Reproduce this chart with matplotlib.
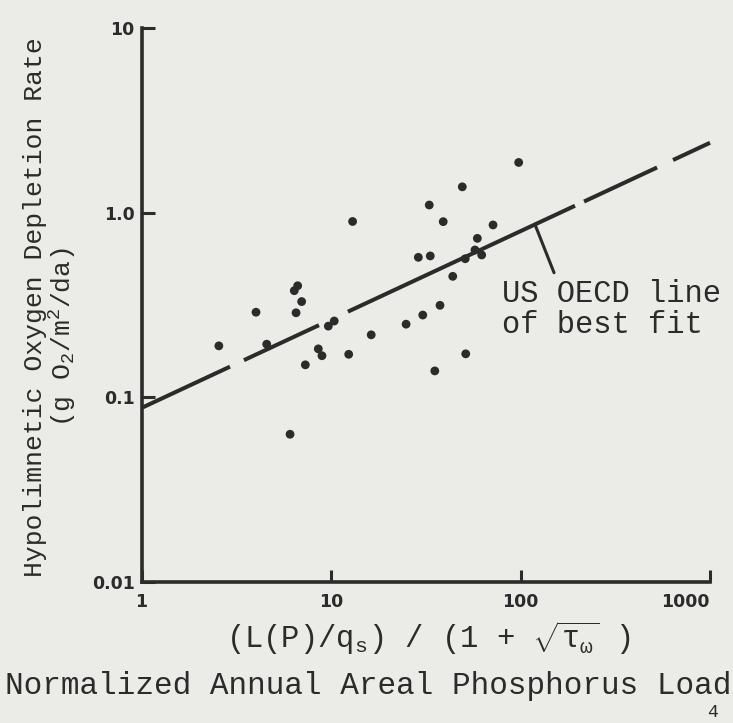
import numpy as np
import matplotlib
matplotlib.use('Agg')
import matplotlib.pyplot as plt

# data
load = [2.56, 4.02, 4.58, 6.08, 6.40, 6.67, 6.54, 7.00, 7.32, 8.57, 8.96,
        9.68, 10.4, 12.4, 13.0, 16.3, 24.9, 28.9, 30.5, 33.0, 33.4, 35.3,
        37.6, 39.1, 43.9, 49.3, 51.1, 51.4, 57.5, 59.2, 62.4, 71.6, 97.8]
depletion = [0.190, 0.289, 0.194, 0.0631, 0.378, 0.402, 0.287, 0.330, 0.150,
             0.183, 0.168, 0.243, 0.259, 0.171, 0.896, 0.218, 0.249, 0.573,
             0.279, 1.10, 0.583, 0.139, 0.315, 0.894, 0.452, 1.38, 0.563,
             0.172, 0.628, 0.726, 0.590, 0.858, 1.87]

# US OECD line of best fit (end points)
fit_x = [1, 1000]
fit_y = [0.0876, 2.39]

xticks = [1, 10, 100, 1000]
xtick_labels = ['1', '10', '100', '1000']
yticks = [0.01, 0.1, 1, 10]
ytick_labels = ['0.01', '0.1', '1.0', '10']

paper = '#ebebe7'
ink = '#2b2b2b'
mono = 'Liberation Mono'

plt.rcParams['lines.scale_dashes'] = False
plt.rcParams['mathtext.fontset'] = 'custom'
plt.rcParams['mathtext.rm'] = mono
plt.rcParams['mathtext.it'] = mono

fig = plt.figure(figsize=(7.33, 7.23), dpi=100, facecolor=paper)
W, H = 733, 723
ax = fig.add_axes([141.5 / W, 1 - 582 / H, (710 - 141.5) / W, (582 - 28) / H])
ax.set_facecolor(paper)

ax.plot(fit_x, fit_y, color=ink, lw=2.9,
        linestyle=(0, (70.3, 11.1, 59.6, 23, 180.4, 7.2, 58, 12.7, 29.4, 100)),
        solid_capstyle='butt', dash_capstyle='butt', clip_on=False)
ax.scatter(load, depletion, s=40, color=ink, edgecolors='none', zorder=3)

# leader from the fit line to the label
lead_x = 119.2
lead_y = fit_y[0] * lead_x ** (np.log10(fit_y[1] / fit_y[0]) / 3)
ax.annotate('', xy=(lead_x, lead_y), xytext=(150.3, 0.473),
            arrowprops=dict(arrowstyle='-', color=ink, lw=2.2,
                            shrinkA=0, shrinkB=0))

ax.set_xscale('log')
ax.set_yscale('log')
ax.set_xlim(1, 1000)
ax.set_ylim(0.01, 10)
ax.set_xticks(xticks)
ax.set_xticklabels(xtick_labels)
ax.set_yticks(yticks)
ax.set_yticklabels(ytick_labels)
ax.minorticks_off()
ax.tick_params(direction='in', length=9, width=2.2, color=ink,
               labelcolor=ink, labelsize=12.5)
ax.tick_params(axis='x', pad=8)
ax.tick_params(axis='y', pad=5)
for lab in ax.get_xticklabels() + ax.get_yticklabels():
    lab.set_fontweight('bold')
ax.get_xticklabels()[-1].set_horizontalalignment('right')
for s in ['top', 'right']:
    ax.spines[s].set_visible(False)
for s in ['left', 'bottom']:
    ax.spines[s].set_linewidth(2.6)
    ax.spines[s].set_color(ink)

# text, placed in figure pixels
def ftext(x, y, s, **kw):
    fig.text(x / W, 1 - y / H, s, family=mono, color=ink, **kw)

ftext(35, 307, 'Hypolimnetic Oxygen Depletion Rate', fontsize=19,
      rotation=90, ha='center', va='center')
ftext(63, 337, r'(g O$_2$/m$^2$/da)', fontsize=19,
      rotation=90, ha='center', va='center')
ftext(502, 301.7, 'US OECD line', fontsize=22, ha='left', va='baseline')
ftext(502, 333, 'of best fit', fontsize=22, ha='left', va='baseline')
ftext(428, 648, r'(L(P)/q$_\mathrm{s}$) / (1 + $\sqrt{\tau_\omega}$ )',
      fontsize=22, ha='center', va='baseline')
ftext(5, 694, 'Normalized Annual Areal Phosphorus Load', fontsize=22.3,
      ha='left', va='baseline')
ftext(712, 717, '4', fontsize=13, ha='center', va='baseline')

fig.savefig('out.png', dpi=100, facecolor=paper)
